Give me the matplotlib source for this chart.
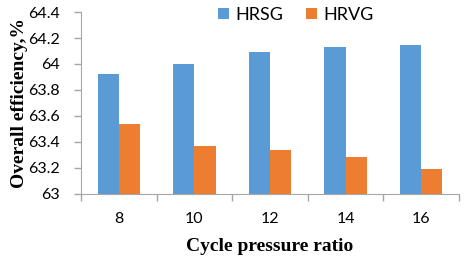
import numpy as np
import matplotlib.pyplot as plt

ratios = ["8", "10", "12", "14", "16"]
hrsg = [63.92, 64.00, 64.09, 64.13, 64.15]
hrvg = [63.54, 63.37, 63.34, 63.28, 63.19]
yticks = [63, 63.2, 63.4, 63.6, 63.8, 64, 64.2, 64.4]
ytick_labels = ["63", "63.2", "63.4", "63.6", "63.8", "64", "64.2", "64.4"]

blue = "#5B9BD5"
orange = "#ED7D31"
axis_gray = "#A6A6A6"

fig = plt.figure(figsize=(4.68, 2.68), dpi=100)
ax = fig.add_axes([0.173, 0.277, 0.808, 0.678])

x = np.arange(len(ratios))
w = 0.28
ax.bar(x - w / 2, hrsg, w, color=blue, label="HRSG")
ax.bar(x + w / 2, hrvg, w, color=orange, label="HRVG")

ax.set_xlim(-0.5, len(ratios) - 0.5)
ax.set_ylim(63, 64.4)
ax.set_yticks(yticks)
ax.set_yticklabels(ytick_labels, fontfamily="Lato", fontsize=11.5)

# category labels centred, tick marks on the boundaries
ax.set_xticks(x)
ax.set_xticklabels(ratios, fontfamily="Lato", fontsize=11.5)
ax.tick_params(axis="x", which="major", length=0, pad=13)
ax.set_xticks(np.arange(len(ratios) + 1) - 0.5, minor=True)
ax.tick_params(axis="x", which="minor", length=5, color=axis_gray, width=1)
ax.tick_params(axis="y", length=5, color=axis_gray, width=1, pad=10)

for s in ["top", "right"]:
    ax.spines[s].set_visible(False)
for s in ["left", "bottom"]:
    ax.spines[s].set_color(axis_gray)

ax.set_ylabel("Overall efficiency,%", fontfamily="Liberation Serif",
              fontweight="bold", fontsize=14, labelpad=0)
ax.set_xlabel("Cycle pressure ratio", fontfamily="Liberation Serif",
              fontweight="bold", fontsize=14, labelpad=9)

fig.legend(loc="center", bbox_to_anchor=(0.632, 0.944), ncol=2, frameon=False,
           prop={"family": "Lato", "size": 13}, handlelength=0.6,
           handleheight=0.6, columnspacing=1.3, handletextpad=0.35)

fig.savefig("out.png", dpi=100)
